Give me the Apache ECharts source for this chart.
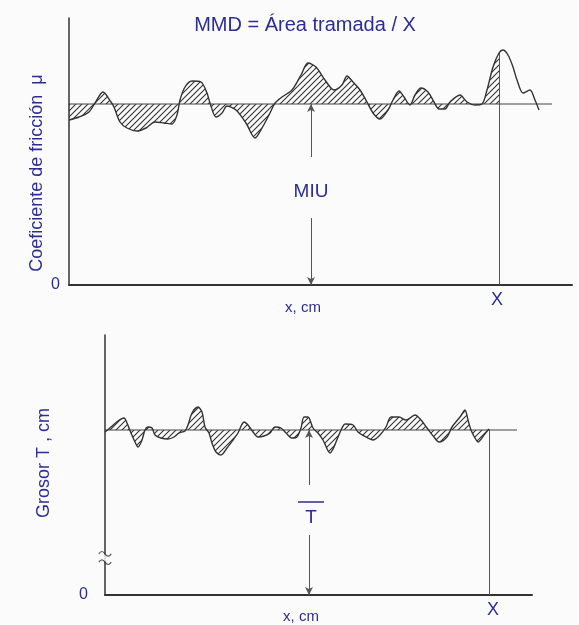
<!DOCTYPE html>
<html>
<head>
<meta charset="utf-8">
<style>html,body{margin:0;padding:0;background:#fbfbfb;}#c{width:579px;height:625px;}</style>
<script src="https://cdn.jsdelivr.net/npm/echarts@6/dist/echarts.min.js"></script>
</head>
<body>
<div id="c"></div>
<script>
// ---- Data (arbitrary schematic units) ----
const topX = [0,0.2,0.4,0.52,0.68,0.84,0.9,1.02,1.16,1.36,1.54,1.72,1.9,2.06,2.16,2.22,2.32,2.46,2.64,2.76,2.82,2.94,3.06,3.16,3.34,3.54,3.72,3.86,4.02,4.12,4.26,4.46,4.64,4.78,4.94,5.12,5.3,5.46,5.56,5.68,5.82,5.96,6.08,6.22,6.38,6.48,6.6,6.7,6.82,6.92,7.04,7.18,7.3,7.4,7.52,7.62,7.82,7.96,8.12,8.26,8.36,8.48,8.6,8.68,8.78,8.88,8.96,9.08,9.22,9.32,9.4];
const topMu = [0.825,0.84,0.865,0.91,0.965,0.915,0.89,0.815,0.785,0.77,0.785,0.815,0.81,0.805,0.85,0.925,0.99,1.02,1.015,0.96,0.91,0.84,0.86,0.895,0.875,0.81,0.735,0.785,0.86,0.91,0.94,0.975,1.05,1.11,1.09,1.025,0.975,1.0,1.045,1.015,0.975,0.915,0.86,0.83,0.875,0.925,0.97,0.94,0.9,0.95,0.985,0.965,0.915,0.88,0.88,0.915,0.95,0.915,0.9,0.905,0.975,1.09,1.16,1.175,1.15,1.09,1.025,0.96,0.975,0.925,0.875];
const topMean = 0.905;      // MIU
const topMeanEnd = 9.66;
const topXMark = 8.6;       // X
const topYMax = 1.335;
const topXMax = 10.06;

const botX = [0,0.12,0.26,0.38,0.44,0.52,0.6,0.66,0.74,0.8,0.86,0.94,1.0,1.12,1.26,1.38,1.48,1.6,1.66,1.74,1.86,1.94,2.0,2.08,2.14,2.22,2.32,2.44,2.56,2.66,2.78,2.86,2.96,3.06,3.18,3.3,3.4,3.52,3.62,3.74,3.84,3.92,3.98,4.06,4.16,4.26,4.36,4.5,4.58,4.66,4.74,4.8,4.96,5.06,5.22,5.36,5.5,5.62,5.72,5.88,6.02,6.2,6.32,6.44,6.58,6.68,6.84,6.94,7.1,7.2,7.26,7.32,7.4,7.46,7.58,7.68];
const botT = [0.815,0.84,0.87,0.885,0.86,0.81,0.765,0.74,0.775,0.825,0.84,0.835,0.8,0.785,0.78,0.79,0.81,0.82,0.85,0.91,0.94,0.915,0.84,0.81,0.76,0.715,0.7,0.735,0.775,0.81,0.865,0.85,0.815,0.79,0.795,0.81,0.84,0.835,0.81,0.785,0.79,0.835,0.89,0.89,0.835,0.81,0.775,0.71,0.74,0.79,0.835,0.855,0.85,0.815,0.79,0.775,0.8,0.84,0.89,0.89,0.875,0.9,0.875,0.835,0.79,0.765,0.79,0.84,0.89,0.925,0.875,0.825,0.785,0.765,0.8,0.83];
const botMean = 0.825;      // T bar
const botMeanEnd = 8.24;
const botXMark = 7.68;      // X
const botYMax = 1.3;
const botXMax = 8.54;
const botBreakAt = 0.185;

const yTickLabels = ['0'];

// ---- helpers ----
const zip = (xs, ys) => xs.slice(0, Math.min(xs.length, ys.length)).map((x, i) => [x, ys[i]]);
const topPts = zip(topX, topMu);
const botPts = zip(botX, botT);

function hatchPattern() {
  const s = 6;
  const c = document.createElement('canvas');
  c.width = s; c.height = s;
  const g = c.getContext('2d');
  g.strokeStyle = '#333';
  g.lineWidth = 1.1;
  g.beginPath();
  g.moveTo(0, s); g.lineTo(s, 0);
  g.moveTo(-1, 1); g.lineTo(1, -1);
  g.moveTo(s - 1, s + 1); g.lineTo(s + 1, s - 1);
  g.stroke();
  return c;
}
const pat = { image: hatchPattern(), repeat: 'repeat' };

const INK = '#333';
const NAVY = '#2d2d96';
const FONT = '"Liberation Sans", Arial, sans-serif';

function yAx(gi, max, margin) {
  return {
    gridIndex: gi, type: 'value', min: 0, max: max, interval: max,
    axisLine: { show: true, lineStyle: { color: INK, width: 1.5 } },
    axisTick: { show: false }, splitLine: { show: false },
    axisLabel: {
      show: true, margin: margin, color: NAVY, fontSize: 16, fontFamily: FONT,
      formatter: v => (v === 0 ? yTickLabels[0] : '')
    }
  };
}
function xAx(gi, max) {
  return {
    gridIndex: gi, type: 'value', min: 0, max: max,
    axisLine: { show: true, onZero: false, lineStyle: { color: INK, width: 2 } },
    axisTick: { show: false }, splitLine: { show: false }, axisLabel: { show: false }
  };
}
const arrowLine = { color: '#555', width: 1, type: 'solid' };
function seg(x1, y1, x2, y2, arrow) {
  return [{ coord: [x1, y1], symbol: 'none' }, { coord: [x2, y2], symbol: arrow ? 'arrow' : 'none' }];
}

const option = {
  animation: false,
  backgroundColor: '#fbfbfb',
  grid: [
    { left: 69, top: 18, width: 503, height: 267 },
    { left: 105, top: 335, width: 427, height: 260 }
  ],
  xAxis: [xAx(0, topXMax), xAx(1, botXMax)],
  yAxis: [yAx(0, topYMax, 9), yAx(1, botYMax, 17)],
  series: [
    {
      type: 'line', xAxisIndex: 0, yAxisIndex: 0, smooth: 0.3, symbol: 'none', z: 1,
      data: topPts.filter(p => p[0] <= topXMark),
      lineStyle: { width: 0 },
      areaStyle: { color: pat, origin: topMean, opacity: 1 }
    },
    {
      type: 'line', xAxisIndex: 0, yAxisIndex: 0, symbol: 'none', z: 2,
      data: [[0, topMean], [topMeanEnd, topMean]],
      lineStyle: { color: '#444', width: 1.2 },
      markLine: {
        silent: true, symbolSize: [6, 8], label: { show: false }, lineStyle: arrowLine,
        data: [
          seg(4.84, 0.64, 4.84, topMean, true),
          seg(4.84, 0.335, 4.84, 0, true),
          seg(topXMark, 1.16, topXMark, 0, false)
        ]
      }
    },
    {
      type: 'line', xAxisIndex: 0, yAxisIndex: 0, smooth: 0.3, symbol: 'none', z: 3,
      data: topPts, lineStyle: { color: '#333', width: 1.4 }
    },
    {
      type: 'line', xAxisIndex: 1, yAxisIndex: 1, smooth: 0.3, symbol: 'none', z: 1,
      data: botPts.filter(p => p[0] <= botXMark),
      lineStyle: { width: 0 },
      areaStyle: { color: pat, origin: botMean, opacity: 1 }
    },
    {
      type: 'line', xAxisIndex: 1, yAxisIndex: 1, symbol: 'none', z: 2,
      data: [[0, botMean], [botMeanEnd, botMean]],
      lineStyle: { color: '#444', width: 1.2 },
      markLine: {
        silent: true, symbolSize: [6, 8], label: { show: false }, lineStyle: arrowLine,
        data: [
          seg(4.08, 0.55, 4.08, botMean, true),
          seg(4.08, 0.3, 4.08, 0, true),
          seg(botXMark, 0.83, botXMark, 0, false)
        ]
      }
    },
    {
      type: 'line', xAxisIndex: 1, yAxisIndex: 1, smooth: 0.3, symbol: 'none', z: 3,
      data: botPts, lineStyle: { color: '#333', width: 1.4 }
    },
    {
      type: 'scatter', xAxisIndex: 1, yAxisIndex: 1, z: 5, silent: true,
      data: [[0, botBreakAt]],
      symbol: 'rect', symbolSize: [6, 7],
      itemStyle: { color: '#fbfbfb' }
    },
    {
      type: 'scatter', xAxisIndex: 1, yAxisIndex: 1, z: 6, silent: true,
      data: [[0, botBreakAt]],
      symbol: 'path://M0,3 C2,0 4,0 6,3 C8,6 10,6 12,3 M0,11 C2,8 4,8 6,11 C8,14 10,14 12,11',
      symbolSize: [13, 13], symbolKeepAspect: true,
      itemStyle: { color: 'none', borderColor: '#333', borderWidth: 1.2 }
    }
  ]
};

const chart = echarts.init(document.getElementById('c'));
chart.setOption(option);

const P = (gi, x, y) => chart.convertToPixel({ gridIndex: gi }, [x, y]);
const txt = (x, y, text, size, extra) => Object.assign({
  type: 'text', x: x, y: y, z: 20, silent: true,
  style: { text: text, fill: NAVY, font: size + 'px ' + FONT, align: 'center', verticalAlign: 'middle' }
}, extra || {});

const tO = P(0, 0, 0);
const bO = P(1, 0, 0);
const tMiu = P(0, 4.84, 0.465);
const tXm = P(0, topXMark, 0);
const bXm = P(1, botXMark, 0);
const bT = P(1, 4.08, 0.385);

chart.setOption({
  graphic: [
    txt(305, 25, 'MMD = Área tramada / X', 20),
    txt(37, 173, 'Coeficiente de fricción  μ', 18, { rotation: Math.PI / 2 }),
    txt(44, 463, 'Grosor T , cm', 18, { rotation: Math.PI / 2 }),
    txt(tMiu[0], tMiu[1], 'MIU', 19),
    txt(tXm[0] - 2, tO[1] + 15, 'X', 18),
    txt(tO[0] + 234, tO[1] + 23, 'x, cm', 15),
    txt(bT[0] + 2, bT[1], 'T', 19),
    { type: 'line', z: 20, silent: true,
      shape: { x1: bT[0] - 11, y1: bT[1] - 16, x2: bT[0] + 15, y2: bT[1] - 16 },
      style: { stroke: NAVY, lineWidth: 1.5 } },
    txt(bXm[0] + 4, bO[1] + 15, 'X', 18),
    txt(bO[0] + 196, bO[1] + 22, 'x, cm', 15)
  ]
});
</script>
</body>
</html>
